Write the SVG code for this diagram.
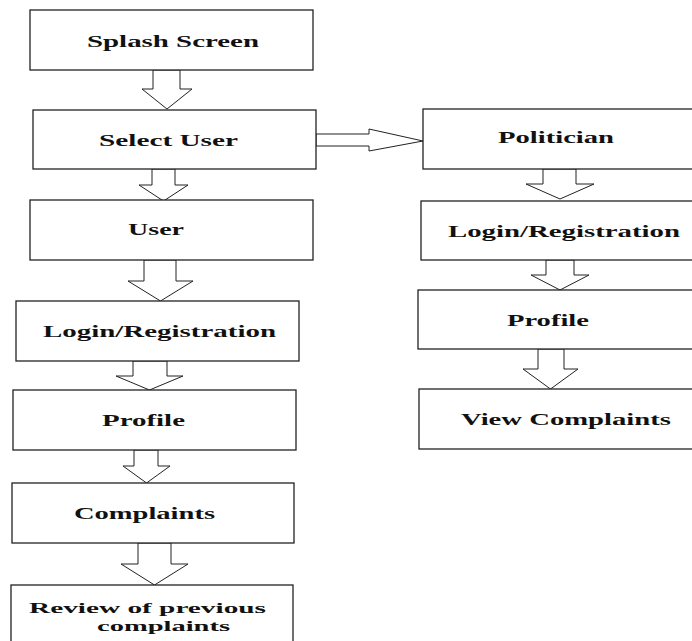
<svg xmlns="http://www.w3.org/2000/svg" width="692" height="641" viewBox="0 0 692 641">
<style>
.box{fill:#fff;stroke:#222;stroke-width:1.3}
.arr{fill:#fff;stroke:#222;stroke-width:1;stroke-linejoin:miter}
.t{font-family:"Liberation Serif","Times New Roman",serif;font-weight:bold;font-size:16.5px;fill:#111}
.s{font-size:15.5px}
</style>
<rect width="692" height="641" fill="#fff"/>
<g id="connectors">
<polygon class="arr" points="153,70 180,70 180,89 192,89 167,109 142,89 153,89"/>
<polygon class="arr" points="152,169 175,169 175,185 188,185 163.5,201 139,185 152,185"/>
<polygon class="arr" points="144,260 176,260 176,281 193,281 160.5,301 128,281 144,281"/>
<polygon class="arr" points="133,361 167,361 167,376 183,376 149.5,390 116,376 133,376"/>
<polygon class="arr" points="134,450 158,450 158,466 170,466 146.5,483 123,466 134,466"/>
<polygon class="arr" points="138,543 171,543 171,564 188,564 154.5,585 121,564 138,564"/>
<polygon class="arr" points="316,134 369,134 369,129 423,141 369,151 369,146 316,146"/>
<polygon class="arr" points="543,169 576,169 576,184 594,184 560,199 526,184 543,184"/>
<polygon class="arr" points="546,260 574,260 574,275 589,275 560,290 531,275 546,275"/>
<polygon class="arr" points="538,349 564,349 564,369 578,369 550.5,389 523,369 538,369"/>
</g>
<g id="splash"><rect class="box" x="30" y="10" width="283" height="60"/><text class="t" x="87" y="47" textLength="172" lengthAdjust="spacingAndGlyphs">Splash Screen</text></g>
<g id="select-user"><rect class="box" x="33" y="110" width="283" height="59"/><text class="t" x="99" y="146" textLength="139" lengthAdjust="spacingAndGlyphs">Select User</text></g>
<g id="user"><rect class="box" x="30" y="200" width="283" height="60"/><text class="t" x="128" y="235" textLength="56" lengthAdjust="spacingAndGlyphs">User</text></g>
<g id="user-login"><rect class="box" x="16" y="301" width="283" height="60"/><text class="t" x="43" y="337" textLength="233" lengthAdjust="spacingAndGlyphs">Login/Registration</text></g>
<g id="user-profile"><rect class="box" x="13" y="390" width="283" height="60"/><text class="t" x="102" y="426" textLength="83" lengthAdjust="spacingAndGlyphs">Profile</text></g>
<g id="complaints"><rect class="box" x="12" y="483" width="282" height="60"/><text class="t" x="74" y="519" textLength="141" lengthAdjust="spacingAndGlyphs">Complaints</text></g>
<g id="review"><rect class="box" x="11" y="585" width="282" height="70"/><text class="t s" x="29" y="613" textLength="237" lengthAdjust="spacingAndGlyphs">Review of previous</text><text class="t s" x="97" y="631" textLength="133" lengthAdjust="spacingAndGlyphs">complaints</text></g>
<g id="politician"><rect class="box" x="423" y="109" width="290" height="60"/><text class="t" x="498" y="143" textLength="116" lengthAdjust="spacingAndGlyphs">Politician</text></g>
<g id="pol-login"><rect class="box" x="421" y="201" width="290" height="59"/><text class="t" x="448" y="237" textLength="232" lengthAdjust="spacingAndGlyphs">Login/Registration</text></g>
<g id="pol-profile"><rect class="box" x="418" y="290" width="290" height="59"/><text class="t" x="507" y="326" textLength="82" lengthAdjust="spacingAndGlyphs">Profile</text></g>
<g id="view-complaints"><rect class="box" x="419" y="389" width="290" height="60"/><text class="t" x="461" y="425" textLength="210" lengthAdjust="spacingAndGlyphs">View Complaints</text></g>
</svg>
